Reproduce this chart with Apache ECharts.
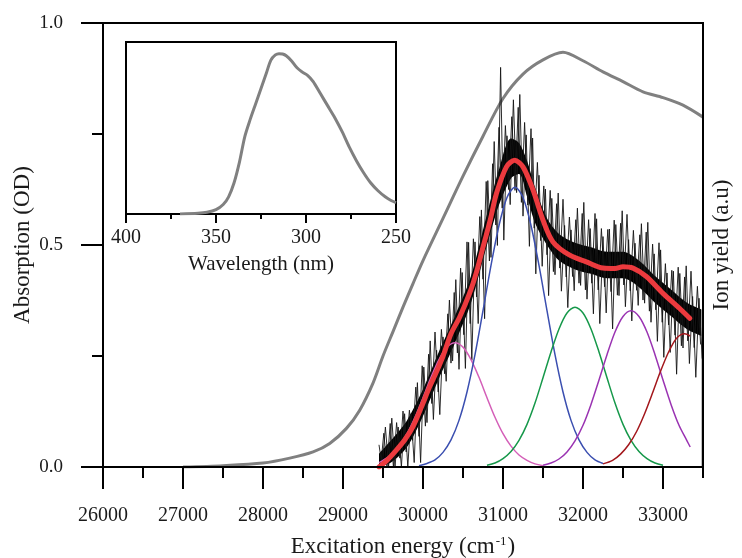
<!DOCTYPE html>
<html>
<head>
<meta charset="utf-8">
<script src="https://cdn.jsdelivr.net/npm/echarts@6/dist/echarts.min.js"></script>
<style>
  html, body { margin: 0; padding: 0; background: #fff; }
  #main { width: 742px; height: 558px; }
</style>
</head>
<body>
<div id="main"></div>
<script>
// absorption spectrum (gray), cm-1 -> OD
var absX = [27000, 27500, 28000, 28334, 28626, 28834, 29043, 29209, 29375, 29500, 29625, 29750, 29875, 30000,
  30250, 30500, 30750, 31000, 31250, 31500, 31750, 32000, 32250, 32500, 32750, 33000, 33250, 33500];
var absY = [0, 0.003, 0.009, 0.02, 0.034, 0.053, 0.087, 0.128, 0.189, 0.25, 0.305, 0.36, 0.413, 0.465,
  0.56, 0.655, 0.745, 0.83, 0.885, 0.917, 0.934, 0.915, 0.89, 0.868, 0.845, 0.832, 0.815, 0.788];

// ion yield raw signal: dense core band + two interleaved spike traces
var bandX = [29450, 29600, 29800, 30000, 30200, 30400, 30600, 30800, 30950, 31100, 31200, 31300, 31400,
  31550, 31700, 31900, 32100, 32300, 32500, 32700, 32900, 33100, 33300, 33480];
var bandLow = [0.0, 0.01, 0.045, 0.115, 0.20, 0.28, 0.37, 0.50, 0.59, 0.65, 0.66, 0.61, 0.55,
  0.50, 0.465, 0.445, 0.435, 0.425, 0.425, 0.405, 0.37, 0.34, 0.31, 0.295];
var bandHigh = [0.03, 0.06, 0.105, 0.175, 0.26, 0.34, 0.43, 0.57, 0.67, 0.74, 0.73, 0.69, 0.63,
  0.56, 0.525, 0.505, 0.495, 0.485, 0.485, 0.465, 0.43, 0.40, 0.37, 0.355];
var noiseStart = 29450;
var noiseStep = 40;
var noiseValues = [0.05, 0.0, 0.09, 0.0, 0.11, 0.0, 0.09, 0.0, 0.12, 0.0,
  0.12, 0.01, 0.19, 0.01, 0.225, 0.10, 0.284, 0.107, 0.263, 0.118,
  0.293, 0.193, 0.376, 0.239, 0.422, 0.22, 0.438, 0.222, 0.506, 0.24,
  0.507, 0.323, 0.579, 0.334, 0.645, 0.472, 0.733, 0.499, 0.90, 0.511,
  0.746, 0.591, 0.827, 0.618, 0.839, 0.565, 0.748, 0.497, 0.741, 0.435,
  0.657, 0.452, 0.626, 0.386, 0.605, 0.433, 0.617, 0.396, 0.544, 0.359,
  0.534, 0.397, 0.583, 0.409, 0.596, 0.378, 0.537, 0.345, 0.559, 0.323,
  0.519, 0.347, 0.536, 0.311, 0.546, 0.386, 0.577, 0.361, 0.512, 0.329,
  0.504, 0.364, 0.548, 0.369, 0.551, 0.326, 0.48, 0.283, 0.489, 0.247,
  0.437, 0.258, 0.441, 0.209, 0.436, 0.268, 0.453, 0.233, 0.384, 0.202,
  0.38, 0.244];
var noise2Start = 29470;
var noise2Values = [0.0, 0.076, 0.0, 0.098, 0.0, 0.10, 0.02, 0.126, 0.034, 0.128,
  0.06, 0.18, 0.069, 0.228, 0.092, 0.254, 0.143, 0.304, 0.169, 0.31,
  0.21, 0.345, 0.234, 0.393, 0.257, 0.448, 0.298, 0.507, 0.323, 0.514,
  0.383, 0.564, 0.423, 0.643, 0.464, 0.683, 0.545, 0.765, 0.583, 0.769,
  0.625, 0.789, 0.623, 0.81, 0.596, 0.776, 0.59, 0.762, 0.538, 0.686,
  0.51, 0.633, 0.478, 0.623, 0.44, 0.593, 0.448, 0.603, 0.428, 0.563,
  0.429, 0.557, 0.414, 0.571, 0.399, 0.557, 0.414, 0.571, 0.399, 0.537,
  0.406, 0.535, 0.395, 0.556, 0.387, 0.549, 0.41, 0.569, 0.397, 0.533,
  0.398, 0.523, 0.376, 0.529, 0.351, 0.502, 0.354, 0.505, 0.326, 0.458,
  0.32, 0.443, 0.297, 0.45, 0.273, 0.428, 0.284, 0.441, 0.269, 0.407,
  0.276];

// fitted sum (red)
var fitX = [29450, 29550, 29667, 29775, 29875, 29980, 30084, 30170, 30251, 30350, 30459, 30584, 30670, 30751,
  30840, 30918, 31043, 31146, 31250, 31375, 31500, 31625, 31834, 32042, 32250, 32400, 32500, 32625, 32792,
  33000, 33209, 33334];
var fitY = [0.0, 0.015, 0.038, 0.062, 0.091, 0.135, 0.181, 0.215, 0.25, 0.30, 0.338, 0.392, 0.44, 0.496,
  0.556, 0.616, 0.676, 0.691, 0.676, 0.624, 0.556, 0.507, 0.477, 0.462, 0.448, 0.447, 0.451, 0.448, 0.429,
  0.391, 0.357, 0.335];

// gaussian components
var pinkX = [29450, 29500, 29600, 29700, 29800, 29900, 30000, 30100, 30200, 30300, 30400, 30500, 30600,
  30700, 30800, 30900, 31000, 31100, 31200, 31300, 31400, 31500];
var pinkY = [0.010, 0.015, 0.027, 0.047, 0.075, 0.112, 0.156, 0.202, 0.242, 0.270, 0.280, 0.270, 0.242,
  0.202, 0.156, 0.112, 0.075, 0.047, 0.027, 0.015, 0.007, 0.003];
var blueX = [29950, 30050, 30150, 30250, 30350, 30450, 30550, 30650, 30750, 30850, 30950, 31050, 31150,
  31250, 31350, 31450, 31550, 31650, 31750, 31850, 31950, 32050, 32150, 32250];
var blueY = [0.003, 0.008, 0.016, 0.033, 0.061, 0.105, 0.169, 0.253, 0.352, 0.454, 0.544, 0.607, 0.630,
  0.607, 0.544, 0.454, 0.352, 0.253, 0.169, 0.105, 0.061, 0.033, 0.016, 0.008];
var greenX = [30800, 30900, 31000, 31100, 31200, 31300, 31400, 31500, 31600, 31700, 31800, 31900, 32000,
  32100, 32200, 32300, 32400, 32500, 32600, 32700, 32800, 32900, 33000];
var greenY = [0.004, 0.009, 0.019, 0.035, 0.060, 0.096, 0.144, 0.201, 0.259, 0.311, 0.347, 0.360, 0.347,
  0.311, 0.259, 0.201, 0.144, 0.096, 0.060, 0.035, 0.019, 0.009, 0.004];
var purpleX = [31500, 31600, 31700, 31800, 31900, 32000, 32100, 32200, 32300, 32400, 32500, 32600, 32700,
  32800, 32900, 33000, 33100, 33200, 33300, 33340];
var purpleY = [0.004, 0.009, 0.018, 0.034, 0.059, 0.094, 0.141, 0.196, 0.253, 0.304, 0.339, 0.352, 0.339,
  0.304, 0.253, 0.196, 0.141, 0.094, 0.059, 0.045];
var darkRedX = [32250, 32370, 32470, 32570, 32670, 32770, 32870, 32970, 33070, 33170, 33270, 33340];
var darkRedY = [0.007, 0.015, 0.029, 0.050, 0.080, 0.120, 0.167, 0.216, 0.259, 0.290, 0.300, 0.295];

// inset: absorption vs wavelength
var insetWl = [370, 360, 355, 350, 346, 343, 340, 337, 334, 331, 328, 325, 322, 319.5, 317, 315, 313,
  311, 308, 305, 302, 299, 296, 292, 288, 284, 280, 276, 272, 268, 264, 260, 256, 253, 250];
var insetAbs = [0, 0.004, 0.01, 0.025, 0.055, 0.10, 0.18, 0.30, 0.45, 0.55, 0.64, 0.73, 0.82, 0.895, 0.925,
  0.932, 0.93, 0.92, 0.89, 0.85, 0.825, 0.805, 0.77, 0.70, 0.63, 0.56, 0.48, 0.39, 0.31, 0.24, 0.18, 0.135,
  0.10, 0.08, 0.066];

// tick labels
var energyTicks = [26000, 27000, 28000, 29000, 30000, 31000, 32000, 33000];

function pairs(xs, ys) {
  var out = [];
  for (var i = 0; i < xs.length; i++) out.push([xs[i], ys[i]]);
  return out;
}
var noisePairs = noiseValues.map(function (v, i) { return [noiseStart + i * noiseStep, v]; });
var noise2Pairs = noise2Values.map(function (v, i) { return [noise2Start + i * noiseStep, v]; });

var serif = "'Liberation Serif', 'DejaVu Serif', serif";
var ink = '#1a1a1a';

var myChart = echarts.init(document.getElementById('main'));
myChart.setOption({
  animation: false,
  backgroundColor: '#fff',
  grid: [
    { left: 103, top: 23, width: 600, height: 444, show: true, borderColor: '#000', borderWidth: 2, z: 10, outerBoundsMode: 'none' },
    { left: 126, top: 42, width: 270, height: 172, show: true, borderColor: '#000', borderWidth: 2, outerBoundsMode: 'none' }
  ],
  xAxis: [
    {
      gridIndex: 0, type: 'value', min: 26000, max: 33500, interval: 500, z: 10,
      axisLine: { lineStyle: { color: '#000', width: 2 } },
      axisTick: { length: 11, lineStyle: { color: '#000', width: 2 } },
      axisLabel: { show: false },
      splitLine: { show: false },
      name: 'Excitation energy (cm{sup|-1})',
      nameLocation: 'middle', nameGap: 68,
      nameTextStyle: {
        fontFamily: serif, fontSize: 23, color: ink,
        rich: { sup: { fontFamily: serif, fontSize: 13, color: ink, verticalAlign: 'top', padding: [0, 1, 10, 1] } }
      }
    },
    {
      gridIndex: 0, type: 'value', min: 26000, max: 33500, position: 'bottom', z: 10,
      axisLine: { show: false },
      axisTick: { length: 22, customValues: energyTicks, lineStyle: { color: '#000', width: 2 } },
      axisLabel: {
        customValues: energyTicks, margin: 39, fontFamily: serif, fontSize: 20, color: ink,
        formatter: function (v) { return String(v); }
      },
      splitLine: { show: false }
    },
    {
      gridIndex: 1, type: 'value', min: 250, max: 400, interval: 50, inverse: true,
      axisLine: { lineStyle: { color: '#000', width: 2 } },
      axisTick: { length: 9, lineStyle: { color: '#000', width: 2 } },
      minorTick: { show: true, splitNumber: 2, length: 5, lineStyle: { color: '#000', width: 2 } },
      axisLabel: { margin: 14, fontFamily: serif, fontSize: 20, color: ink },
      splitLine: { show: false },
      name: 'Wavelength (nm)', nameLocation: 'middle', nameGap: 40,
      nameTextStyle: { fontFamily: serif, fontSize: 21, color: ink }
    }
  ],
  yAxis: [
    {
      gridIndex: 0, type: 'value', min: 0, max: 1, interval: 0.5, position: 'left', z: 10,
      axisLine: { lineStyle: { color: '#000', width: 2 } },
      axisTick: { length: 22, lineStyle: { color: '#000', width: 2 } },
      minorTick: { show: true, splitNumber: 2, length: 11, lineStyle: { color: '#000', width: 2 } },
      axisLabel: { margin: 40, fontFamily: serif, fontSize: 19, color: ink, formatter: function (v) { return v.toFixed(1); } },
      splitLine: { show: false },
      name: 'Absorption (OD)', nameLocation: 'middle', nameGap: 69, nameRotate: 90, nameMoveOverlap: false,
      nameTextStyle: { fontFamily: serif, fontSize: 23, color: ink }
    },
    {
      gridIndex: 0, type: 'value', min: 0, max: 1, position: 'right',
      axisLine: { show: false }, axisTick: { show: false }, axisLabel: { show: false },
      splitLine: { show: false },
      name: 'Ion yield (a.u)', nameLocation: 'middle', nameGap: 7, nameRotate: 90,
      nameTextStyle: { fontFamily: serif, fontSize: 23, color: ink }
    },
    {
      gridIndex: 1, type: 'value', min: 0, max: 1, show: false
    }
  ],
  series: [
    {
      // dense core of the raw signal: black down from the upper edge, then white up to the lower edge
      name: 'bandHigh', type: 'line', xAxisIndex: 0, yAxisIndex: 1,
      data: pairs(bandX, bandHigh), showSymbol: false, smooth: 0.3,
      lineStyle: { width: 0 }, areaStyle: { color: '#000', opacity: 1, origin: 'start' }
    },
    {
      name: 'bandLow', type: 'line', xAxisIndex: 0, yAxisIndex: 1,
      data: pairs(bandX, bandLow), showSymbol: false, smooth: 0.3,
      lineStyle: { width: 0 }, areaStyle: { color: '#fff', opacity: 1, origin: 'start' }
    },
    {
      name: 'absorption', type: 'line', xAxisIndex: 0, yAxisIndex: 0,
      data: pairs(absX, absY), showSymbol: false, smooth: 0.3,
      lineStyle: { color: '#808080', width: 3 }
    },
    {
      name: 'ion yield', type: 'line', xAxisIndex: 0, yAxisIndex: 1,
      data: noisePairs, showSymbol: false,
      lineStyle: { color: '#151515', width: 0.9 }
    },
    {
      name: 'ion yield b', type: 'line', xAxisIndex: 0, yAxisIndex: 1,
      data: noise2Pairs, showSymbol: false,
      lineStyle: { color: '#151515', width: 0.9 }
    },
    {
      name: 'g1', type: 'line', xAxisIndex: 0, yAxisIndex: 1, data: pairs(pinkX, pinkY),
      showSymbol: false, smooth: 0.3, lineStyle: { color: '#d45fb8', width: 1.5 }
    },
    {
      name: 'g2', type: 'line', xAxisIndex: 0, yAxisIndex: 1, data: pairs(blueX, blueY),
      showSymbol: false, smooth: 0.3, lineStyle: { color: '#3b4fb0', width: 1.5 }
    },
    {
      name: 'g3', type: 'line', xAxisIndex: 0, yAxisIndex: 1, data: pairs(greenX, greenY),
      showSymbol: false, smooth: 0.3, lineStyle: { color: '#16984a', width: 1.5 }
    },
    {
      name: 'g4', type: 'line', xAxisIndex: 0, yAxisIndex: 1, data: pairs(purpleX, purpleY),
      showSymbol: false, smooth: 0.3, lineStyle: { color: '#9a33b2', width: 1.5 }
    },
    {
      name: 'g5', type: 'line', xAxisIndex: 0, yAxisIndex: 1, data: pairs(darkRedX, darkRedY),
      showSymbol: false, smooth: 0.3, lineStyle: { color: '#a3171c', width: 1.5 }
    },
    {
      name: 'fit', type: 'line', xAxisIndex: 0, yAxisIndex: 1, data: pairs(fitX, fitY),
      showSymbol: false, smooth: 0.3, lineStyle: { color: '#ec3a3e', width: 5, cap: 'round' }
    },
    {
      name: 'inset', type: 'line', xAxisIndex: 2, yAxisIndex: 2, data: pairs(insetWl, insetAbs),
      showSymbol: false, smooth: 0.3, lineStyle: { color: '#808080', width: 3 }
    }
  ]
});
</script>
</body>
</html>
